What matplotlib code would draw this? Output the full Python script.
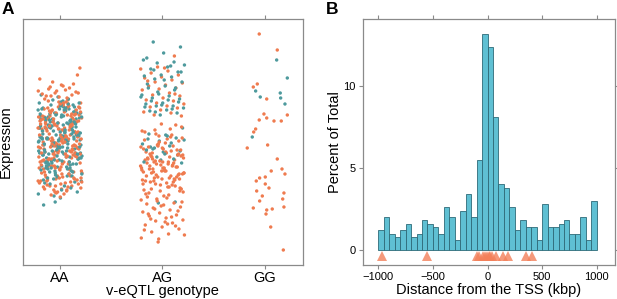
import numpy as np
import matplotlib
matplotlib.use("Agg")
import matplotlib.pyplot as plt

plt.rcParams['font.family'] = ['Liberation Sans', 'DejaVu Sans']

# ---- panel A: expression per genotype (arbitrary units) ----
genotypes = ['AA', 'AG', 'GG']

aa_teal = [131, 97, 144, 112, 158, 103, 126, 88, 149, 117,
           139, 106, 163, 121, 94, 152, 109, 135, 100, 141,
           124, 156, 91, 114, 147, 129, 102, 160, 119, 137,
           98, 151, 110, 133, 85, 145, 122, 107, 155, 127,
           116, 142, 95, 161, 104, 130, 150, 113, 138, 92,
           123, 157, 101, 146, 118, 134, 108, 165, 125, 140,
           99, 153, 115, 128, 89, 143, 111, 159, 120, 136,
           105, 148, 132, 96, 154, 119, 127, 141, 102, 162,
           113, 137, 93, 150, 124, 108, 145, 130, 117, 157,
           100, 134, 152, 111, 126, 143, 98, 139, 121, 160,
           106, 148, 115, 131, 94, 155, 123, 140, 109, 136,
           127, 103, 146, 118, 164, 97, 133, 151, 112, 142,
           81, 73, 67, 60, 77, 69, 84, 79, 87, 83,
           168, 170, 166, 119, 129, 104, 147, 135, 90, 114,
           125, 138, 101, 156, 110, 144, 122, 132, 149, 107,
           128, 109, 151, 96, 137, 117, 160, 104, 143, 122,
           91, 133, 148, 112, 125, 99, 156, 139, 107, 118,
           145, 101, 130, 162, 114, 93, 152, 127, 110, 141,
           86, 120, 135, 103, 158, 116, 146, 124, 97, 131,
           75, 82, 89, 63, 71, 154, 111, 138, 105, 126]

aa_orange = [128, 93, 151, 110, 137, 82, 146, 119, 163, 104,
             135, 99, 157, 122, 88, 142, 114, 130, 75, 149,
             117, 161, 96, 140, 107, 126, 153, 85, 133, 112,
             145, 101, 124, 158, 91, 138, 116, 79, 148, 129,
             106, 155, 120, 134, 95, 143, 111, 162, 127, 87,
             139, 103, 150, 118, 131, 98, 156, 113, 141, 83,
             125, 147, 109, 136, 92, 159, 121, 132, 102, 144,
             115, 152, 97, 128, 139, 108, 160, 123, 89, 146,
             77, 71, 80, 86, 73, 84, 78, 70, 81, 76,
             166, 170, 172, 174, 175, 176, 173, 168, 171, 177,
             183, 197, 179, 169, 181, 174, 186, 167, 178, 190,
             130, 105, 149, 119, 94, 137, 157, 112, 142, 100,
             126, 154, 116, 135, 90, 147, 122, 108, 163, 131,
             143, 96, 120, 138, 111, 153, 127, 84, 145, 104,
             117, 158, 99, 133, 124, 148, 107, 140, 92, 129,
             164, 151, 114, 136, 103, 155, 121, 88, 141, 110,
             72, 82, 74, 79, 85, 68, 78, 83, 75, 87,
             134, 98, 150, 118, 128, 161, 106, 144, 125, 113,
             140, 97, 118, 155, 106, 131, 87, 149, 114, 125,
             102, 160, 136, 93, 121, 144, 109, 152, 128, 81,
             116, 139, 99, 147, 123, 105, 133, 158, 112, 91,
             127, 150, 101, 142, 119, 86, 137, 108, 154, 124,
             95, 146, 130, 113, 162, 103, 134, 120, 89, 141,
             165, 169, 172, 180, 76, 79, 73, 84, 111, 126]

ag_teal = [223, 218, 212, 207, 203, 202, 200, 198, 196, 193,
           190, 189, 188, 186, 183, 179, 177, 177, 171, 170,
           169, 167, 166, 162, 161, 159, 159, 157, 155, 154,
           152, 150, 205, 199, 195, 193, 185, 181, 175, 173,
           168, 165, 164, 163, 160, 158, 156, 153,
           137, 130, 131, 127, 124, 121, 119, 116, 114, 113,
           115, 106, 108, 125, 129, 118, 110, 105, 103, 122,
           117, 102, 111, 126, 63, 62]

ag_orange = [209, 198, 196, 194, 192, 190, 188, 187, 185, 183,
             182, 180, 179, 177, 176, 175, 172, 170, 169, 167,
             165, 164, 162, 161, 159, 158, 157, 155, 153, 152,
             150, 149, 197, 184, 171,
             23, 27, 31, 33, 36, 38, 40, 42, 44, 45,
             47, 49, 50, 52, 53, 55, 57, 58, 60, 61,
             62, 64, 30, 41, 46, 54, 59, 35, 48, 56,
             63, 43, 51, 39, 26,
             95, 78, 112, 86, 103, 71, 119, 90, 107, 82,
             99, 115, 74, 93, 128, 84, 109, 97, 68, 105,
             88, 118, 101, 76, 111, 94, 133, 80, 104, 91,
             113, 72, 98, 123, 85, 108, 96, 77, 116, 89,
             102, 66, 92, 126, 83, 110, 100, 75, 114, 87,
             138, 94, 106, 79, 121, 97, 70, 108, 91, 117,
             84, 100, 131, 73, 112, 96, 88, 104, 81, 136,
             93, 115, 69, 102, 86, 120, 99, 78, 109, 90,
             141, 125, 130, 135, 127, 122, 118, 140, 129, 134,
             87, 106, 74, 97, 113, 83, 101, 92, 67, 111,
             98, 80, 116, 89, 103, 76, 95, 107, 85, 119,
             65, 103, 92, 124, 86, 105, 99, 81, 110, 94]

gg_teal = [205, 187, 174, 172, 168, 167, 161, 128]
gg_teal_jit = [0.114, 0.218, -0.091, 0.149, -0.046, 0.153, 0.195, -0.124]

gg_orange = [231, 215, 181, 178, 166, 151, 150, 147, 145, 144,
             144, 136, 133, 120, 117, 106, 96, 94, 91, 88,
             87, 84, 81, 77, 74, 72, 69, 66, 64, 58,
             57, 55, 56, 51, 38, 15]
gg_orange_jit = [-0.056, 0.12, -0.075, -0.114, 0.017, -0.01, 0.218, 0.017, -0.056, 0.088,
                 0.159, -0.091, -0.11, 0.026, -0.173, 0.12, 0.166, 0.061, 0.195, 0.003,
                 -0.052, -0.085, 0.003, 0.039, -0.081, 0.185, -0.026, 0.173, -0.052, 0.185,
                 -0.114, 0.017, 0.071, 0.01, 0.056, 0.179]

# ---- panel B: histogram of distance to TSS (percent of total, 50 kbp bins) ----
hist_pct = [1.2, 2.0, 1.0, 0.8, 1.2, 1.6, 0.8, 1.0, 1.8, 1.6,
            1.4, 1.0, 2.6, 2.0, 0.6, 2.4, 3.4, 2.0, 5.5, 13.2,
            12.4, 8.1, 4.0, 3.8, 2.6, 1.2, 1.8, 1.4, 1.4, 0.6,
            2.8, 1.4, 1.4, 1.6, 1.8, 1.0, 1.0, 2.0, 0.6, 3.0]
snp_kbp = [-970, -550, -100, -75, -45, -20, -5, 10, 25, 45, 75, 145, 190, 355, 410]

TEAL = '#4e9a9d'
ORANGE = '#ef7b4f'
FRAME = '#8a8a8a'


def spread(n, phase=0.0, w=0.215):
    # even, non-random horizontal jitter
    k = (np.arange(n) * 0.6180339887 + phase) % 1.0
    return (k - 0.5) * 2 * w


def style_frame(ax):
    for s in ax.spines.values():
        s.set_color(FRAME)
        s.set_linewidth(0.9)
    ax.tick_params(direction='out', length=3, width=0.8, color=FRAME)


fig = plt.figure(figsize=(6.17, 2.99), dpi=100)
axA = fig.add_axes([22.7 / 617, 34 / 299, 280.3 / 617, 246 / 299])
axB = fig.add_axes([362.7 / 617, 34 / 299, 252.6 / 617, 246 / 299])

# panel A
xs, ys, cs = [], [], []
groups = [
    (1, aa_teal, spread(len(aa_teal), 0.11), TEAL),
    (1, aa_orange, spread(len(aa_orange), 0.53), ORANGE),
    (2, ag_teal, spread(len(ag_teal), 0.29), TEAL),
    (2, ag_orange, spread(len(ag_orange), 0.77), ORANGE),
    (3, gg_teal, np.array(gg_teal_jit), TEAL),
    (3, gg_orange, np.array(gg_orange_jit), ORANGE),
]
for pos, vals, jit, col in groups:
    xs.extend(pos + jit)
    ys.extend(vals)
    cs.extend([col] * len(vals))
xs, ys, cs = np.array(xs), np.array(ys), np.array(cs)
order = np.argsort((np.arange(len(xs)) * 0.7548776662) % 1.0)
axA.scatter(xs[order], ys[order], c=cs[order], s=6, linewidths=0)

axA.set_xlim(0.636, 3.371)
axA.set_ylim(0, 246)
axA.set_xticks([1, 2, 3])
axA.set_xticklabels(genotypes, fontsize=10.5)
axA.set_yticks([])
axA.tick_params(axis='x', top=True, pad=1.5)
style_frame(axA)
axA.set_xlabel('v-eQTL genotype', fontsize=10.5)
axA.xaxis.set_label_coords(0.5, -0.077)
axA.set_ylabel('Expression', fontsize=10.5)
axA.yaxis.set_label_coords(-0.035, 0.5)

# panel B
edges = np.linspace(-1000, 1000, len(hist_pct) + 1)
axB.bar(edges[:-1], hist_pct, width=np.diff(edges), align='edge',
        color='#5fc0d3', edgecolor='#2e6a78', linewidth=0.6)
axB.plot(snp_kbp, [-0.38] * len(snp_kbp), '^', color='#f3805a', alpha=0.8,
         markersize=6.5, markeredgewidth=0)
axB.set_xlim(-1143, 1170)
axB.set_ylim(-0.92, 14.1)
axB.set_xticks([-1000, -500, 0, 500, 1000])
axB.set_yticks([0, 5, 10])
axB.tick_params(labelsize=8, top=True, right=True, pad=2)
style_frame(axB)
axB.set_xlabel('Distance from the TSS (kbp)', fontsize=10.5)
axB.xaxis.set_label_coords(0.5, -0.072)
axB.set_ylabel('Percent of Total', fontsize=10.5)
axB.yaxis.set_label_coords(-0.083, 0.5)

fig.text(2 / 617, 1 - 2 / 299, 'A', fontsize=12.5, fontweight='bold', va='top', ha='left')
fig.text(326 / 617, 1 - 2 / 299, 'B', fontsize=12.5, fontweight='bold', va='top', ha='left')

fig.savefig('out.png', dpi=100)
